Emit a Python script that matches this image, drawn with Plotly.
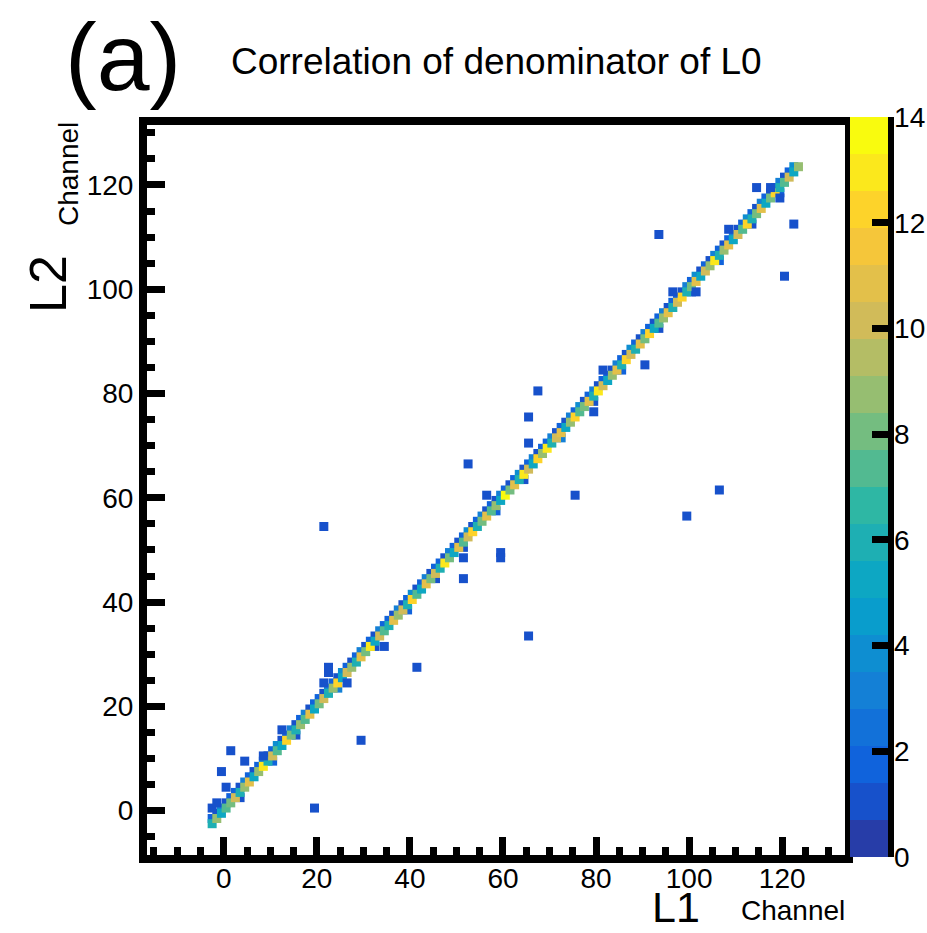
import numpy as np
import plotly.graph_objects as go

# ---------------- data ----------------
# main diagonal: channel L1 == L2 (bin index, bin centre = ch + 0.5)
diag_channels = list(range(-3, 124))
diag_counts = [
    6, 9, 5, 7, 8, 10, 6, 9, 11, 5,
    9, 13, 6, 10, 7, 5, 12, 8, 6, 9,
    7, 11, 5, 8, 10, 6, 9, 12, 5, 10,
    9, 6, 11, 8, 13, 5, 10, 7, 6, 11,
    9, 10, 6, 12, 7, 5, 11, 8, 10, 6,
    13, 8, 5, 11, 7, 10, 12, 6, 8, 11,
    7, 9, 5, 14, 8, 11, 6, 13, 10, 5,
    12, 9, 13, 6, 10, 11, 5, 9, 12, 7,
    8, 11, 6, 13, 10, 5, 9, 11, 6, 12,
    10, 6, 11, 8, 12, 5, 7, 9, 11, 6,
    10, 12, 6, 8, 11, 5, 10, 9, 13, 6,
    9, 11, 5, 10, 7, 12, 6, 8, 11, 5,
    8, 12, 6, 7, 10, 5, 9,
]
# neighbour diagonal: L2 == L1 + 1
upper_counts = [
    2, 1, 3, 1, 2, 2, 1, 3, 2, 1,
    2, 3, 1, 2, 4, 1, 2, 3, 1, 2,
    3, 1, 2, 2, 1, 3, 2, 1, 4, 2,
    1, 2, 3, 1, 2, 1, 3, 2, 2, 1,
    3, 1, 2, 4, 1, 2, 3, 1, 2, 2,
    1, 3, 2, 1, 2, 4, 1, 2, 3, 1,
    2, 1, 3, 2, 1, 2, 4, 1, 2, 3,
    1, 2, 2, 3, 1, 2, 1, 3, 2, 4,
    1, 2, 3, 1, 2, 2, 1, 3, 2, 1,
    4, 2, 1, 3, 2, 1, 2, 3, 1, 2,
    2, 1, 3, 2, 4, 1, 2, 1, 3, 2,
    1, 2, 3, 1, 2, 4, 2, 1, 3, 2,
    1, 2, 3, 1, 2, 4, 0,
]
# sparse neighbour diagonal: L2 == L1 - 1
lower_channels = [2, 9, 14, 23, 31, 38, 44, 50, 57, 63, 71, 78, 84, 92, 99,
                  105, 112, 118]
lower_counts = [1, 2, 1, 3, 1, 2, 1, 1, 2, 1, 3, 1, 2, 1, 1, 2, 1, 2]
# isolated off-diagonal entries (bin centres)
off_l1 = [114.5, 117.5, 119.5, 122.5, 93.5, 108.5, 120.5, 96.5, 101.5, 90.5,
          67.5, 65.5, 65.5, 52.5, 56.5, 75.5, 51.5, 59.5, 59.5, 51.5,
          79.5, 65.5, 99.5, 106.5, 21.5, 41.5, 29.5, 19.5, 1.5, 4.5,
          -0.5, 0.5, 22.5, 22.5, 21.5, 26.5, 12.5, 34.5, -2.5, -1.5,
          8.5, 81.5]
off_l2 = [119.5, 119.5, 117.5, 112.5, 110.5, 111.5, 102.5, 99.5, 99.5, 85.5,
          80.5, 75.5, 70.5, 66.5, 60.5, 60.5, 48.5, 49.5, 48.5, 44.5,
          76.5, 33.5, 56.5, 61.5, 54.5, 27.5, 13.5, 0.5, 11.5, 9.5,
          7.5, 4.5, 27.5, 26.5, 24.5, 24.5, 15.5, 31.5, 0.5, 1.5,
          10.5, 84.5]
off_counts = [1] * len(off_l1)

x_ticks = [0, 20, 40, 60, 80, 100, 120]
y_ticks = [0, 20, 40, 60, 80, 100, 120]
z_ticks = [0, 2, 4, 6, 8, 10, 12, 14]

# ---------------- style ----------------
FONT = "Liberation Sans, Arial, Helvetica, sans-serif"
W, H = 927, 933
PL, PR, PT, PB = 147, 845, 125, 855   # plot area in pixels


def px(x):
    return (x - PL) / (PR - PL)


def py(y):
    return (PB - y) / (PB - PT)


# ROOT kBird palette, 20 contour levels
st = [0, .125, .25, .375, .5, .625, .75, .875, 1]
rr = [0.2082, 0.0592, 0.0780, 0.0232, 0.1802, 0.5301, 0.8186, 0.9956, 0.9764]
gg = [0.1664, 0.3599, 0.5041, 0.6419, 0.7178, 0.7492, 0.7328, 0.7862, 0.9832]
bb = [0.5293, 0.8684, 0.8385, 0.7914, 0.6425, 0.4662, 0.3499, 0.1968, 0.0539]
NC = 20
cscale = []
for k in range(NC):
    t = int((k + 0.99) * 255 / NC) / 254
    c = "rgb(%d,%d,%d)" % (round(np.interp(t, st, rr) * 255),
                           round(np.interp(t, st, gg) * 255),
                           round(np.interp(t, st, bb) * 255))
    cscale.append([k / NC, c])
    cscale.append([(k + 1) / NC, c])

ux = [c + 0.5 for c, n in zip(diag_channels, upper_counts) if n > 0]
uy = [c + 1.5 for c, n in zip(diag_channels, upper_counts) if n > 0]
uz = [n for n in upper_counts if n > 0]
lx = [c + 1.5 for c in lower_channels]
ly = [c + 0.5 for c in lower_channels]
dx = [c + 0.5 for c in diag_channels]
dy = [c + 0.5 for c in diag_channels]

mk = dict(symbol="square", size=9, line=dict(width=0), coloraxis="coloraxis")

fig = go.Figure()
fig.add_trace(go.Scatter(x=ux, y=uy, mode="markers",
                         marker=dict(color=uz, **mk), showlegend=False))
fig.add_trace(go.Scatter(x=lx, y=ly, mode="markers",
                         marker=dict(color=lower_counts, **mk), showlegend=False))
fig.add_trace(go.Scatter(x=dx, y=dy, mode="markers",
                         marker=dict(color=diag_counts, **mk), showlegend=False))
fig.add_trace(go.Scatter(x=off_l1, y=off_l2, mode="markers",
                         marker=dict(color=off_counts, **mk), showlegend=False))

axis_common = dict(
    showgrid=False, zeroline=False, showline=True, linewidth=8,
    linecolor="black", mirror=True, ticks="inside", ticklen=18,
    tickwidth=7, tickcolor="black",
    tickfont=dict(family=FONT, size=28, color="black"),
    minor=dict(dtick=5, tick0=0, ticks="inside", ticklen=8, tickwidth=7,
               tickcolor="black", showgrid=False),
)

fig.update_layout(
    width=W, height=H,
    paper_bgcolor="white", plot_bgcolor="white",
    margin=dict(l=PL, r=W - PR, t=PT, b=H - PB, pad=0, autoexpand=False),
    xaxis=dict(range=[-16.5, 133.5], tickvals=x_ticks, ticklabelstandoff=-9,
               **axis_common),
    yaxis=dict(range=[-8.5, 131.5], tickvals=y_ticks, **axis_common),
    coloraxis=dict(
        colorscale=cscale, cmin=0, cmax=14,
        colorbar=dict(
            thickness=38, thicknessmode="pixels",
            len=740, lenmode="pixels",
            x=px(850), xanchor="left", y=py(487), yanchor="middle",
            outlinewidth=0, ticks="inside", ticklen=16, tickwidth=7,
            tickcolor="black", tickvals=z_ticks, xpad=0, ypad=0,
            tickfont=dict(family=FONT, size=28, color="black"),
        ),
    ),
    shapes=[dict(type="line", xref="paper", yref="paper",
                 x0=px(891), x1=px(891), y0=py(117), y1=py(857),
                 line=dict(color="black", width=6))],
    annotations=[
        dict(text="(a)", xref="paper", yref="paper", x=px(63), y=py(57),
             xanchor="left", yanchor="middle", showarrow=False,
             font=dict(family=FONT, size=95, color="black")),
        dict(text="Correlation of denominator of L0", xref="paper", yref="paper",
             x=px(229), y=py(62), xanchor="left", yanchor="middle",
             showarrow=False, font=dict(family=FONT, size=37, color="black")),
        dict(text="L2", xref="paper", yref="paper", x=px(48), y=py(284),
             xanchor="center", yanchor="middle", textangle=-90, showarrow=False,
             font=dict(family=FONT, size=52, color="black")),
        dict(text="Channel", xref="paper", yref="paper", x=px(68), y=py(174),
             xanchor="center", yanchor="middle", textangle=-90, showarrow=False,
             font=dict(family=FONT, size=28, color="black")),
        dict(text="L1", xref="paper", yref="paper", x=px(676), y=py(907),
             xanchor="center", yanchor="middle", showarrow=False,
             font=dict(family=FONT, size=43, color="black")),
        dict(text="Channel", xref="paper", yref="paper", x=px(793), y=py(911),
             xanchor="center", yanchor="middle", showarrow=False,
             font=dict(family=FONT, size=28, color="black")),
    ],
)

fig.write_html("out.html",
               config={"displayModeBar": False},
               post_script="document.body.style.margin='0';"
                           "document.body.style.overflow='hidden';")
